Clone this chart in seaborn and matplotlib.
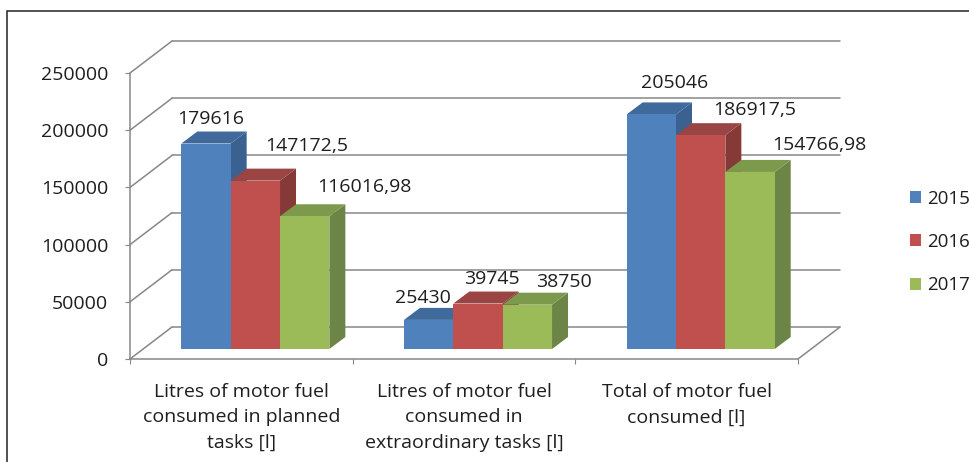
import numpy as np
import pandas as pd
import matplotlib
matplotlib.use("Agg")
import matplotlib.pyplot as plt
import seaborn as sns
from matplotlib.patches import Polygon, Rectangle

# ---------------- data ----------------
categories = [
    "Litres of motor fuel\nconsumed in planned\ntasks [l]",
    "Litres of motor fuel\nconsumed in\nextraordinary tasks [l]",
    "Total of motor fuel\nconsumed [l]",
]
years = ["2015", "2016", "2017"]
values_2015 = [179616, 25430, 205046]
values_2016 = [147172.5, 39745, 186917.5]
values_2017 = [116016.98, 38750, 154766.98]
labels_2015 = ["179616", "25430", "205046"]
labels_2016 = ["147172,5", "39745", "186917,5"]
labels_2017 = ["116016,98", "38750", "154766,98"]
y_ticks = [0, 50000, 100000, 150000, 200000, 250000]

# ---------------- style ----------------
front_colors = ["#4F81BD", "#C0504D", "#9BBB59"]
top_colors = ["#3F6A9B", "#9A4543", "#7D9A4C"]
side_colors = ["#3A6190", "#853A38", "#6C8547"]
grid_color = "#878787"
text_color = "#1E1E1E"

sns.set_style("white")
plt.rcParams["font.family"] = ["Open Sans", "DejaVu Sans"]
FS = 14

W, H, DPI = 969, 462, 100
fig = plt.figure(figsize=(W / DPI, H / DPI), dpi=DPI)

# front plane geometry in pixels
L_px, R_px, Y0_px, YT_px = 130, 798, 359, 73
ax = fig.add_axes([L_px / W, (H - Y0_px) / H, (R_px - L_px) / W, (Y0_px - YT_px) / H])

px_per_cat = (R_px - L_px) / 3.0
px_per_val = (Y0_px - YT_px) / 250000.0


def dx(px):
    return px / px_per_cat


def dy(px):
    return px / px_per_val


df = pd.DataFrame({
    "category": categories * 3,
    "year": [y for y in years for _ in categories],
    "value": values_2015 + values_2016 + values_2017,
})

sns.barplot(data=df, x="category", y="value", hue="year", order=categories,
            hue_order=years, palette=front_colors, width=0.665, saturation=1,
            errorbar=None, legend=False, ax=ax)

ax.set_xlim(-0.5, 2.5)
ax.set_ylim(0, 250000)
ax.set_xlabel("")
ax.set_ylabel("")
for s in ax.spines.values():
    s.set_visible(False)

# perspective offsets
back = (dx(42), dy(32))
shift = (dx(14), dy(10))
depth = (dx(16), dy(12))

# walls / grid
for v in y_ticks:
    ax.plot([-0.5 + back[0], 2.5 + back[0]], [v + back[1], v + back[1]],
            color=grid_color, lw=1.1, clip_on=False, zorder=1)
    ax.plot([-0.5, -0.5 + back[0]], [v, v + back[1]],
            color=grid_color, lw=1.1, clip_on=False, zorder=1)
# floor edges and axis line
ax.plot([-0.5, 2.5], [0, 0], color=grid_color, lw=1.1, clip_on=False, zorder=1.5)
ax.plot([2.5, 2.5 + back[0]], [0, back[1]], color=grid_color, lw=1.1, clip_on=False, zorder=1.5)
ax.plot([-0.5, -0.5], [0, 250000], color=grid_color, lw=1.1, clip_on=False, zorder=1.5)

# label nudges (pixels, relative to bar front-top centre)
nudges = [
    [(5, 25), (-6, 22), (23, 31)],
    [(51, 35), (14, 25), (54, 25)],
    [(60, 29), (37, 23), (69, 27)],
]
all_labels = [labels_2015, labels_2016, labels_2017]

for h, cont in enumerate(ax.containers):
    for j, p in enumerate(cont.patches):
        x0 = p.get_x() + shift[0]
        w = p.get_width()
        val = p.get_height()
        y0 = shift[1]
        top = y0 + val
        order = j * 3 + h
        z = 3 + order * 0.1
        p.set_x(x0)
        p.set_y(y0)
        p.set_edgecolor("none")
        p.set_zorder(z + 0.05)
        x1 = x0 + w
        side = Polygon([(x1, y0), (x1, top), (x1 + depth[0], top + depth[1]),
                        (x1 + depth[0], y0 + depth[1])], closed=True,
                       fc=side_colors[h], ec="none", zorder=z, clip_on=False)
        topf = Polygon([(x0, top), (x1, top), (x1 + depth[0], top + depth[1]),
                        (x0 + depth[0], top + depth[1])], closed=True,
                       fc=top_colors[h], ec="none", zorder=z, clip_on=False)
        ax.add_patch(side)
        ax.add_patch(topf)
        ndx, ndy = nudges[h][j]
        ax.text(x0 + w / 2 + dx(ndx), top + dy(ndy), all_labels[h][j],
                ha="center", va="center", fontsize=FS, color=text_color,
                zorder=10, clip_on=False)

# ticks
ax.set_yticks(y_ticks)
ax.set_yticklabels([str(v) for v in y_ticks])
ax.tick_params(axis="y", length=3.6, width=0.8, color=grid_color, pad=12,
               labelsize=FS, labelcolor=text_color, left=True)
ax.set_xticks([0, 1, 2])
ax.set_xticklabels(categories, linespacing=1.55)
ax.set_xticks([-0.5, 0.5, 1.5, 2.5], minor=True)
ax.tick_params(axis="x", which="major", length=0, pad=17, labelsize=FS,
               labelcolor=text_color)
ax.tick_params(axis="x", which="minor", length=3.6, width=0.8, color=grid_color,
               bottom=True)

# legend
handles = [Rectangle((0, 0), 1, 1, fc=c, ec="none") for c in front_colors]
fig.legend(handles, years, loc="center left",
           bbox_to_anchor=(893 / W, 1 - 242 / H), frameon=False,
           handlelength=0.6, handleheight=0.6, handletextpad=0.3,
           labelspacing=1.35, fontsize=FS - 0.5, labelcolor=text_color)

# outer frame
fig.add_artist(Rectangle((7 / W, -0.1), 1.5, (H - 11) / H + 0.1,
                         transform=fig.transFigure, fill=False, ec="#222222",
                         lw=1.1))

fig.savefig("out.png", dpi=DPI)
